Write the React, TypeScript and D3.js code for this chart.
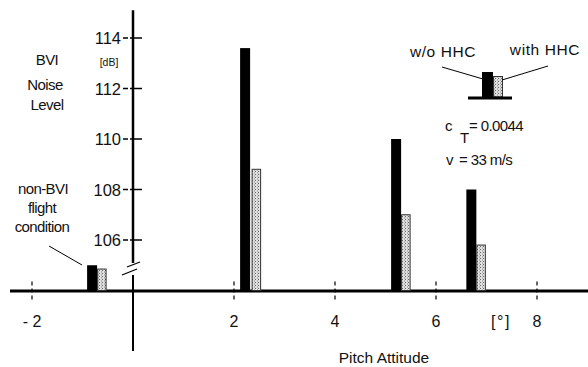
import React, { useEffect, useRef } from "react";
import * as d3 from "d3";

// pitch attitude of each measured point (deg) and BVI noise levels (dB)
const pitch = [-0.81, 2.22, 5.21, 6.7];
const withoutHHC = [105.0, 113.6, 110.0, 108.0];
const withHHC = [104.85, 108.8, 107.0, 105.8];
const yTicks = [106, 108, 110, 112, 114];
const xTicks = [-2, 2, 4, 6, 8];

const W = 588;
const H = 367;
const FONT = "Arial, 'Liberation Sans', sans-serif";

const App = () => {
    const ref = useRef(null);

    useEffect(() => {
        const root = d3.select(ref.current);
        root.selectAll("*").remove();
        const svg = root
            .append("svg")
            .attr("width", W)
            .attr("height", H)
            .style("position", "absolute")
            .style("left", "0px")
            .style("top", "0px")
            .style("background", "#fff")
            .style("font-family", FONT)
            .style("fill", "#111");

        const x = d3.scaleLinear().domain([-2, 8]).range([32, 537]);
        const y = d3.scaleLinear().domain([104, 114]).range([290.5, 38]);
        const x0 = x(0);
        const base = y(104);

        // stipple pattern for the "with HHC" bars
        const pat = svg
            .append("defs")
            .append("pattern")
            .attr("id", "stip")
            .attr("patternUnits", "userSpaceOnUse")
            .attr("width", 3)
            .attr("height", 3);
        pat.append("rect").attr("width", 3).attr("height", 3).attr("fill", "#e0e0e0");
        pat.append("rect").attr("x", 0).attr("y", 0).attr("width", 1).attr("height", 1).attr("fill", "#666");
        pat.append("rect").attr("x", 2).attr("y", 1.5).attr("width", 1).attr("height", 1).attr("fill", "#888");

        // y axis (broken near the bottom)
        svg.append("line")
            .attr("x1", x0).attr("x2", x0)
            .attr("y1", y(115.1)).attr("y2", 263)
            .attr("stroke", "#000").attr("stroke-width", 2.5);
        svg.append("line")
            .attr("x1", x0).attr("x2", x0)
            .attr("y1", 275).attr("y2", 351)
            .attr("stroke", "#000").attr("stroke-width", 2);
        [[127, 267, 140, 262], [122, 275, 137, 269]].forEach(([a, b, c, d]) =>
            svg.append("line")
                .attr("x1", a).attr("y1", b).attr("x2", c).attr("y2", d)
                .attr("stroke", "#000").attr("stroke-width", 1.3)
        );

        svg.selectAll(".ytick")
            .data(yTicks)
            .join("line")
            .attr("x1", x0 - 10).attr("x2", x0 + 9)
            .attr("y1", (d) => y(d)).attr("y2", (d) => y(d))
            .attr("stroke", "#000").attr("stroke-width", 1.3)
            .attr("stroke-dasharray", "5,2,12");
        svg.selectAll(".ylab")
            .data(yTicks)
            .join("text")
            .attr("x", x0 - 12)
            .attr("y", (d) => y(d) + 6)
            .attr("text-anchor", "end")
            .attr("font-size", 16.5)
            .text((d) => d);

        // x axis
        svg.append("line")
            .attr("x1", 10).attr("x2", W)
            .attr("y1", base + 0.5).attr("y2", base + 0.5)
            .attr("stroke", "#000").attr("stroke-width", 3);
        svg.selectAll(".xtick")
            .data(xTicks)
            .join("line")
            .attr("x1", (d) => x(d)).attr("x2", (d) => x(d))
            .attr("y1", base - 9).attr("y2", base + 10)
            .attr("stroke", "#000").attr("stroke-width", 1.2)
            .attr("stroke-dasharray", "4,3");
        svg.selectAll(".xlab")
            .data(xTicks)
            .join("text")
            .attr("x", (d) => x(d))
            .attr("y", 327)
            .attr("text-anchor", "middle")
            .attr("font-size", 16)
            .text((d) => (d < 0 ? "- " + Math.abs(d) : d));
        svg.append("text")
            .attr("x", 501).attr("y", 327)
            .attr("text-anchor", "middle")
            .attr("font-size", 16)
            .attr("letter-spacing", 1.5)
            .text("[°]");
        svg.append("text")
            .attr("x", 384).attr("y", 363)
            .attr("text-anchor", "middle")
            .attr("font-size", 15.5)
            .text("Pitch Attitude");

        // bars
        svg.selectAll(".bw")
            .data(pitch)
            .join("rect")
            .attr("x", (d) => x(d) - 5)
            .attr("width", 10)
            .attr("y", (d, i) => y(withoutHHC[i]))
            .attr("height", (d, i) => base - y(withoutHHC[i]))
            .attr("fill", "#000");
        svg.selectAll(".bh")
            .data(pitch)
            .join("rect")
            .attr("x", (d, i) => x(d) + 5.5 + (i === 1 ? 1.5 : 0))
            .attr("width", 8.5)
            .attr("y", (d, i) => y(withHHC[i]))
            .attr("height", (d, i) => base - y(withHHC[i]))
            .attr("fill", "url(#stip)")
            .attr("stroke", "#333")
            .attr("stroke-width", 1);

        // y axis title
        const tt = svg.append("g").attr("font-size", 15).attr("text-anchor", "middle").attr("letter-spacing", -0.6);
        tt.append("text").attr("x", 47).attr("y", 65).text("BVI");
        tt.append("text").attr("x", 45).attr("y", 90).text("Noise");
        tt.append("text").attr("x", 47).attr("y", 110).text("Level");
        svg.append("text").attr("x", 109).attr("y", 66).attr("font-size", 10.5).attr("text-anchor", "middle").text("[dB]");

        // non-BVI annotation
        const nb = svg.append("g").attr("font-size", 15).attr("text-anchor", "middle").attr("letter-spacing", -0.6);
        nb.append("text").attr("x", 43).attr("y", 194).text("non-BVI");
        nb.append("text").attr("x", 42).attr("y", 213).text("flight");
        nb.append("text").attr("x", 42).attr("y", 232).text("condition");
        svg.append("line")
            .attr("x1", 49).attr("y1", 246).attr("x2", 82).attr("y2", 265)
            .attr("stroke", "#000").attr("stroke-width", 1);

        // legend
        const lg = svg.append("g").attr("font-size", 15.5).attr("text-anchor", "middle").attr("letter-spacing", 0.6);
        lg.append("text").attr("x", 443).attr("y", 57).text("w/o HHC");
        lg.append("text").attr("x", 545).attr("y", 55).text("with HHC");
        lg.append("rect").attr("x", 482).attr("y", 72).attr("width", 11).attr("height", 25).attr("fill", "#000");
        lg.append("rect").attr("x", 493.5).attr("y", 76.5).attr("width", 9).attr("height", 20.5)
            .attr("fill", "url(#stip)").attr("stroke", "#333").attr("stroke-width", 1);
        lg.append("line").attr("x1", 468).attr("x2", 512).attr("y1", 98).attr("y2", 98)
            .attr("stroke", "#000").attr("stroke-width", 3);
        lg.append("line").attr("x1", 442).attr("y1", 67).attr("x2", 483).attr("y2", 79)
            .attr("stroke", "#000").attr("stroke-width", 1);
        lg.append("line").attr("x1", 548).attr("y1", 66).attr("x2", 502).attr("y2", 80)
            .attr("stroke", "#000").attr("stroke-width", 1);

        // flight condition
        const fc = svg.append("g").attr("font-size", 15).attr("letter-spacing", -0.6);
        fc.append("text").attr("x", 445).attr("y", 131).text("c");
        fc.append("text").attr("x", 460).attr("y", 143).text("T");
        fc.append("text").attr("x", 469).attr("y", 131).text("= 0.0044");
        fc.append("text").attr("x", 446).attr("y", 165).text("v");
        fc.append("text").attr("x", 459).attr("y", 165).text("= 33 m/s");
    }, []);

    return <div ref={ref}></div>;
};

export default App;
